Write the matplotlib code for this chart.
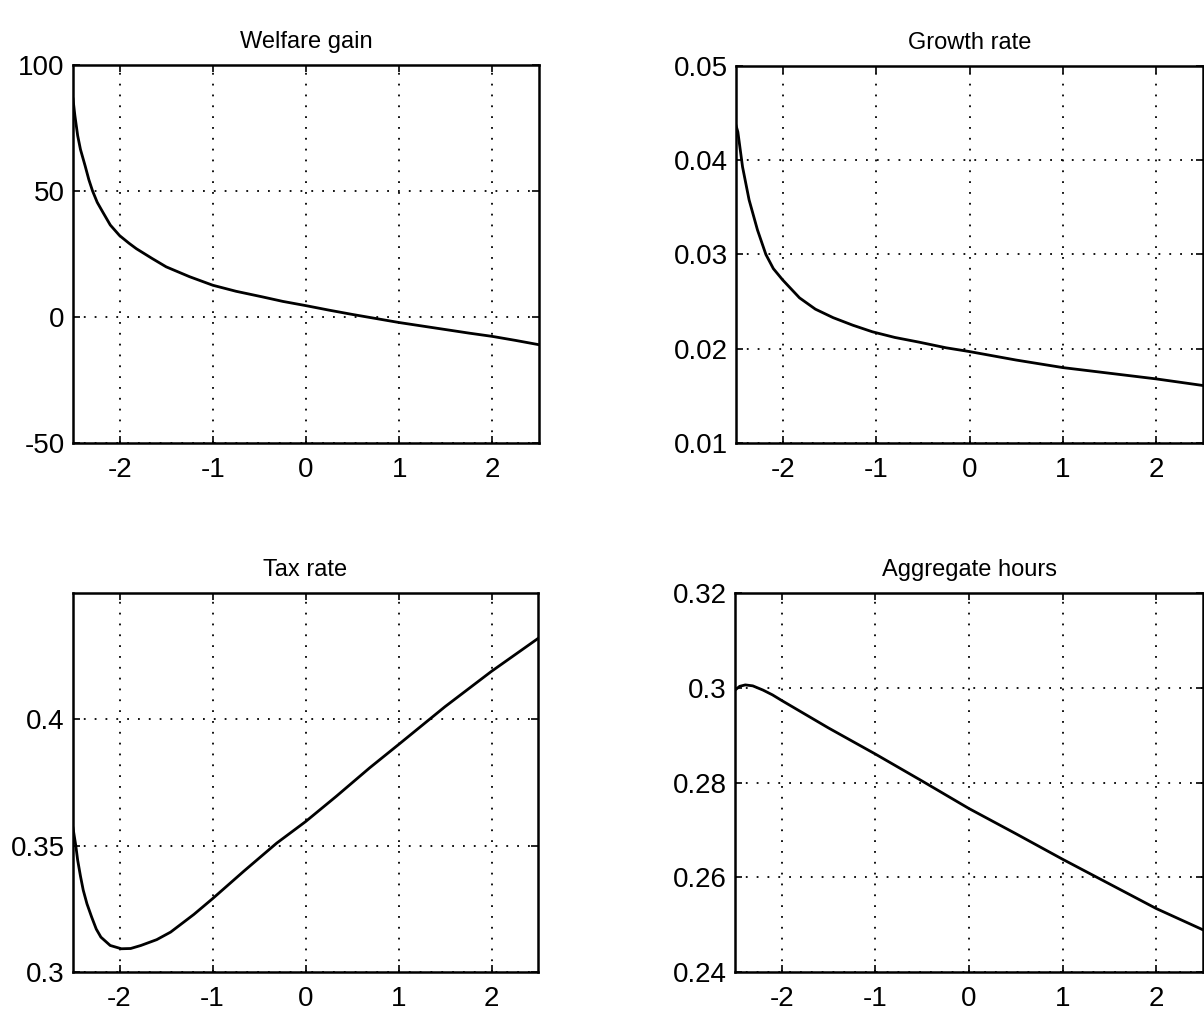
import matplotlib
matplotlib.use("Agg")
import matplotlib.pyplot as plt

plt.rcParams['font.family'] = ['Liberation Sans', 'DejaVu Sans']

# ---- data ----
x_welfare = [-2.5, -2.48, -2.45, -2.42, -2.37, -2.33, -2.29, -2.24, -2.18, -2.1, -2.0,
             -1.9, -1.82, -1.65, -1.5, -1.25, -1.0, -0.75, -0.47, -0.25, 0.0, 0.25,
             0.5, 0.75, 1.0, 1.25, 1.5, 1.75, 2.0, 2.25, 2.5]
welfare = [86.5, 80, 72, 66.5, 60, 54.5, 50, 45.5, 41.6, 36.5, 32.3,
           29.3, 27.1, 23.2, 19.9, 16.0, 12.6, 10.2, 8.0, 6.2, 4.5, 2.7,
           1.0, -0.6, -2.2, -3.6, -5.0, -6.4, -7.7, -9.3, -11.0]

x_growth = [-2.5, -2.48, -2.43, -2.36, -2.27, -2.18, -2.1, -2.0, -1.82, -1.65, -1.46,
            -1.25, -1.04, -0.8, -0.54, -0.25, 0.0, 0.5, 1.0, 1.5, 2.0, 2.5]
growth = [0.0437, 0.0430, 0.0393, 0.0358, 0.0326, 0.0300, 0.0285, 0.0273, 0.0254, 0.0242, 0.0233,
          0.0225, 0.0218, 0.0212, 0.0207, 0.0201, 0.0197, 0.0188, 0.0180, 0.0174, 0.0168, 0.0161]

x_tax = [-2.5, -2.47, -2.45, -2.42, -2.39, -2.35, -2.3, -2.25, -2.2, -2.1, -1.98, -1.88,
         -1.77, -1.6, -1.45, -1.2, -1.0, -0.66, -0.31, 0.0, 0.33, 0.69, 1.0, 1.5, 2.0, 2.5]
tax = [0.357, 0.350, 0.3443, 0.338, 0.3324, 0.327, 0.3218, 0.317, 0.3138, 0.3105, 0.3092, 0.3093,
       0.3105, 0.3128, 0.3158, 0.3228, 0.3290, 0.3400, 0.3510, 0.3595, 0.3695, 0.3808, 0.390,
       0.405, 0.419, 0.432]

x_hours = [-2.5, -2.45, -2.39, -2.31, -2.2, -2.1, -2.0, -1.75, -1.5, -1.0, -0.5, 0.0,
           0.5, 1.0, 1.5, 2.0, 2.5]
hours = [0.2995, 0.3003, 0.3006, 0.3004, 0.2995, 0.2985, 0.2973, 0.2944, 0.2915, 0.2860,
         0.2803, 0.2745, 0.2692, 0.2638, 0.2586, 0.2534, 0.2489]

x_ticks = [-2, -1, 0, 1, 2]
x_ticklabels = ['-2', '-1', '0', '1', '2']

panels = [
    dict(title='Welfare gain', x=x_welfare, y=welfare, ylim=(-50, 100),
         yticks=[-50, 0, 50, 100], yticklabels=['-50', '0', '50', '100'],
         pos=[73 / 1204, 1 - 443 / 1013, 466 / 1204, 378 / 1013]),
    dict(title='Growth rate', x=x_growth, y=growth, ylim=(0.01, 0.05),
         yticks=[0.01, 0.02, 0.03, 0.04, 0.05],
         yticklabels=['0.01', '0.02', '0.03', '0.04', '0.05'],
         pos=[736 / 1204, 1 - 443 / 1013, 467 / 1204, 377 / 1013]),
    dict(title='Tax rate', x=x_tax, y=tax, ylim=(0.3, 0.45),
         yticks=[0.3, 0.35, 0.4], yticklabels=['0.3', '0.35', '0.4'],
         pos=[73 / 1204, 1 - 972 / 1013, 465 / 1204, 379 / 1013]),
    dict(title='Aggregate hours', x=x_hours, y=hours, ylim=(0.24, 0.32),
         yticks=[0.24, 0.26, 0.28, 0.3, 0.32],
         yticklabels=['0.24', '0.26', '0.28', '0.3', '0.32'],
         pos=[735 / 1204, 1 - 972 / 1013, 468 / 1204, 379 / 1013]),
]

fig = plt.figure(figsize=(12.04, 10.13), dpi=100)
fig.patch.set_facecolor('white')

for p in panels:
    ax = fig.add_axes(p['pos'])
    ax.plot(p['x'], p['y'], color='black', lw=2.0, zorder=3)
    ax.set_xlim(-2.5, 2.5)
    ax.set_ylim(*p['ylim'])
    ax.set_xticks(x_ticks)
    ax.set_xticklabels(x_ticklabels)
    ax.set_yticks(p['yticks'])
    ax.set_yticklabels(p['yticklabels'])
    ax.grid(True, color='black', linestyle=(0, (1, 5)), linewidth=1.3)
    ax.tick_params(direction='in', length=5, width=1.2, labelsize=20,
                   top=True, right=True, colors='black')
    ax.tick_params(axis='x', pad=10)
    ax.tick_params(axis='y', pad=6)
    for s in ax.spines.values():
        s.set_linewidth(1.8)
        s.set_color('black')
    ax.set_title(p['title'], fontsize=17, pad=12)

fig.savefig('out.png', dpi=100, facecolor='white')
